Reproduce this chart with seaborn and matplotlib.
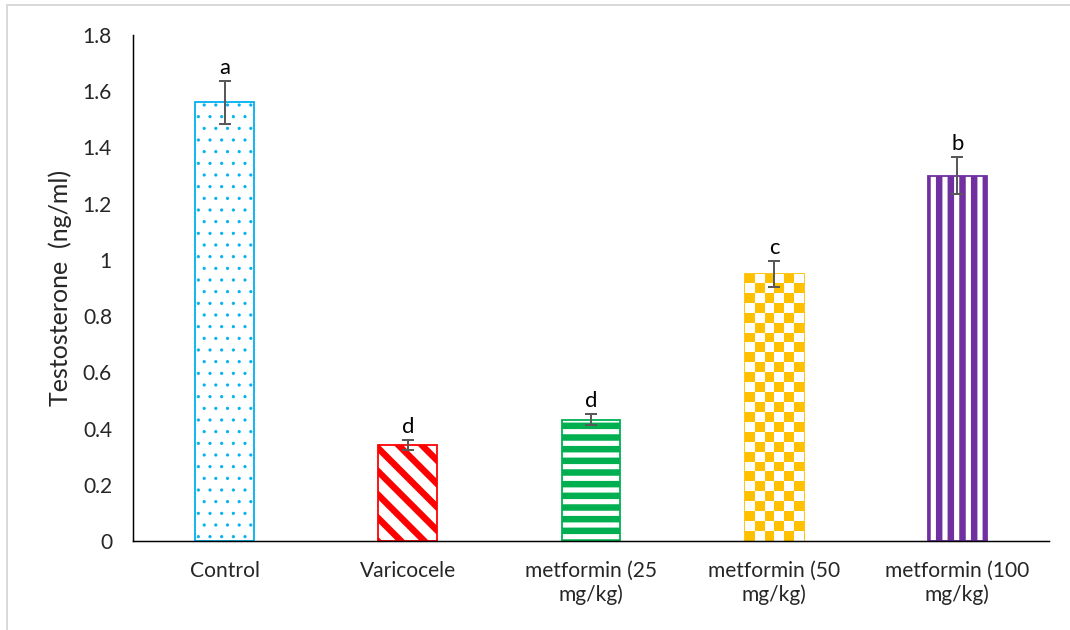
"""
Testosterone levels per group, bar chart with hatched fills and error bars.
"""

import numpy as np
import pandas as pd
import seaborn as sns
import matplotlib.pyplot as plt
from matplotlib.patches import Rectangle

# data
groups = ["Control", "Varicocele", "metformin (25\nmg/kg)",
          "metformin (50\nmg/kg)", "metformin (100\nmg/kg)"]
means = [1.56, 0.342, 0.432, 0.95, 1.30]
errors = [0.078, 0.018, 0.02, 0.046, 0.066]
letters = ["a", "d", "d", "c", "b"]
yticks = [0, 0.2, 0.4, 0.6, 0.8, 1, 1.2, 1.4, 1.6, 1.8]

colors = ["#00B0F0", "#FF0000", "#00B050", "#FFC000", "#7030A0"]
hatches = [".", "\\", "-", None, "|"]

df = pd.DataFrame({"group": groups, "value": means})

# dpi 70 -> hatch cell of 70 px, gives stripe spacing close to the original
DPI = 70
PT = 72 / DPI  # points per pixel

sns.set_style("white")
plt.rcParams["font.family"] = ["Lato", "DejaVu Sans"]
plt.rcParams["hatch.linewidth"] = 6.5 * PT

fig = plt.figure(figsize=(1070 / DPI, 630 / DPI), dpi=DPI)
ax = fig.add_axes([0.1243, 0.1413, 0.8561, 0.8031])

sns.barplot(data=df, x="group", y="value", errorbar=None, width=0.32,
            color="white", ax=ax)

ax.set_ylim(0, 1.8)
ax.set_xlim(-0.5, len(groups) - 0.5)

for bar, col, h in zip(ax.patches, colors, hatches):
    bar.set_facecolor("white")
    bar.set_edgecolor(col)
    bar.set_linewidth(1.8 * PT)
    if h is not None:
        bar.set_hatch(h)
    if h == "." and hasattr(bar, "set_hatch_linewidth"):
        bar.set_hatch_linewidth(0.8 * PT)

# checkerboard fill for the yellow bar
fig.canvas.draw()
chk = ax.patches[3]
x0, y0 = chk.get_x(), chk.get_y()
w, hgt = chk.get_width(), chk.get_height()
p0 = ax.transData.transform((x0, y0))
p1 = ax.transData.transform((x0 + w, y0 + hgt))
ncols = 6
nrows = int(round(ncols * abs(p1[1] - p0[1]) / abs(p1[0] - p0[0])))
board = np.add.outer(np.arange(nrows), np.arange(ncols)) % 2
rgb = np.ones((nrows, ncols, 3))
rgb[board == 0] = [1.0, 0.753, 0.0]
img = ax.imshow(rgb, extent=(x0, x0 + w, y0, y0 + hgt), aspect="auto",
                interpolation="nearest", zorder=chk.get_zorder() + 0.1)
img.set_clip_path(chk)
ax.set_xlim(-0.5, len(groups) - 0.5)
ax.set_ylim(0, 1.8)

# error bars and significance letters
xpos = np.arange(len(groups))
ax.errorbar(xpos, means, yerr=errors, fmt="none", ecolor="#595959",
            elinewidth=2 * PT, capsize=6.5 * PT, capthick=2 * PT, zorder=5)
for x, m, e, t in zip(xpos, means, errors, letters):
    ax.annotate(t, (x, m + e), xytext=(0, 3 * PT), textcoords="offset points",
                ha="center", va="bottom", fontsize=22 * PT, color="#000000")

ax.set_yticks(yticks)
ax.set_yticklabels([f"{v:g}" for v in yticks], fontsize=21 * PT)
ax.tick_params(axis="x", labelsize=21 * PT, pad=20 * PT, length=0)
ax.tick_params(axis="y", length=0, pad=21 * PT)
ax.set_xlabel("")
ax.set_ylabel("Testosterone  (ng/ml)", fontsize=25 * PT, labelpad=11 * PT)

sns.despine(ax=ax)
for s in ["left", "bottom"]:
    ax.spines[s].set_color("black")
    ax.spines[s].set_linewidth(1.5 * PT)

# light grey frame around the chart area
fig.add_artist(Rectangle((0.0065, -0.05), 1.2, 1.042, transform=fig.transFigure,
                         fill=False, edgecolor="#D9D9D9", linewidth=2 * PT))

plt.savefig("out.png", dpi=DPI)
